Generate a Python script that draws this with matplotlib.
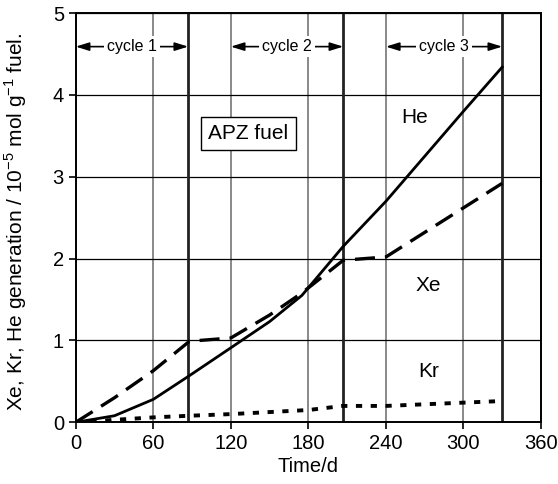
import matplotlib
matplotlib.use("Agg")
import matplotlib.pyplot as plt

plt.rcParams['font.family'] = ['Liberation Sans', 'DejaVu Sans']
plt.rcParams['mathtext.fontset'] = 'custom'
plt.rcParams['mathtext.rm'] = 'Liberation Sans'

# Data (days, 10^-5 mol/g)
he_t = [0, 30, 60, 88, 120, 150, 175, 207, 240, 270, 300, 330]
he_v = [0, 0.08, 0.28, 0.57, 0.91, 1.23, 1.55, 2.15, 2.70, 3.25, 3.80, 4.34]
xe_t = [0, 30, 60, 88, 120, 150, 175, 207, 240, 330]
xe_v = [0, 0.30, 0.63, 0.99, 1.03, 1.31, 1.58, 1.98, 2.02, 2.92]
kr_t = [0, 30, 60, 88, 120, 180, 207, 240, 330]
kr_v = [0, 0.03, 0.06, 0.08, 0.10, 0.15, 0.20, 0.20, 0.26]

cycle_starts = [0, 120, 240]
cycle_ends = [87, 207, 330]
cycle_labels = ["cycle 1", "cycle 2", "cycle 3"]

xticks = [0, 60, 120, 180, 240, 300, 360]
yticks = [0, 1, 2, 3, 4, 5]

fig = plt.figure(figsize=(5.58, 4.84), dpi=100)
ax = fig.add_axes([0.1357, 0.1275, 0.8338, 0.8455])

ax.set_xlim(0, 360)
ax.set_ylim(0, 5)
ax.set_xticks(xticks)
ax.set_yticks(yticks)
ax.grid(True, axis='y', color='black', linewidth=0.9)
ax.grid(True, axis='x', color='#808080', linewidth=1.3)
ax.set_axisbelow(True)

for xe in cycle_ends:
    ax.axvline(xe, color='#222222', linewidth=2.0, zorder=2)

ax.plot(he_t, he_v, color='black', linewidth=2.0, zorder=3)
ax.plot(xe_t, xe_v, color='black', linewidth=2.4, linestyle=(0, (6, 3)), zorder=3)
ax.plot(kr_t, kr_v, color='black', linewidth=2.8, linestyle=(0, (1.6, 2.2)), zorder=3)

for s, e, lab in zip(cycle_starts, cycle_ends, cycle_labels):
    ax.annotate('', xy=(s, 4.59), xytext=(e, 4.59),
                arrowprops=dict(arrowstyle='<|-|>,head_length=0.8,head_width=0.25',
                                color='black', lw=1.2,
                                shrinkA=0, shrinkB=0), zorder=4)
    ax.text((s + e) / 2, 4.59, lab, ha='center', va='center', fontsize=11.5,
            bbox=dict(facecolor='white', edgecolor='none', pad=2), zorder=5)

ax.text(262, 3.72, 'He', ha='center', va='center', fontsize=15)
ax.text(273, 1.67, 'Xe', ha='center', va='center', fontsize=15)
ax.text(273, 0.62, 'Kr', ha='center', va='center', fontsize=15)
ax.text(133.5, 3.53, 'APZ fuel', ha='center', va='center', fontsize=15,
        bbox=dict(boxstyle='square,pad=0.35', facecolor='white', edgecolor='black', linewidth=1.0), zorder=5)

ax.set_xlabel('Time/d', fontsize=14.5, labelpad=3)
ax.set_ylabel(r'Xe, Kr, He generation / 10$^{\mathregular{-5}}$ mol g$^{\mathregular{-1}}$ fuel.',
              fontsize=15, labelpad=4)
ax.yaxis.set_label_coords(-0.1, 0.49)
ax.tick_params(labelsize=14.5, direction='out', length=5, width=1.2)
for sp in ax.spines.values():
    sp.set_linewidth(1.4)

fig.savefig('out.png', dpi=100)
